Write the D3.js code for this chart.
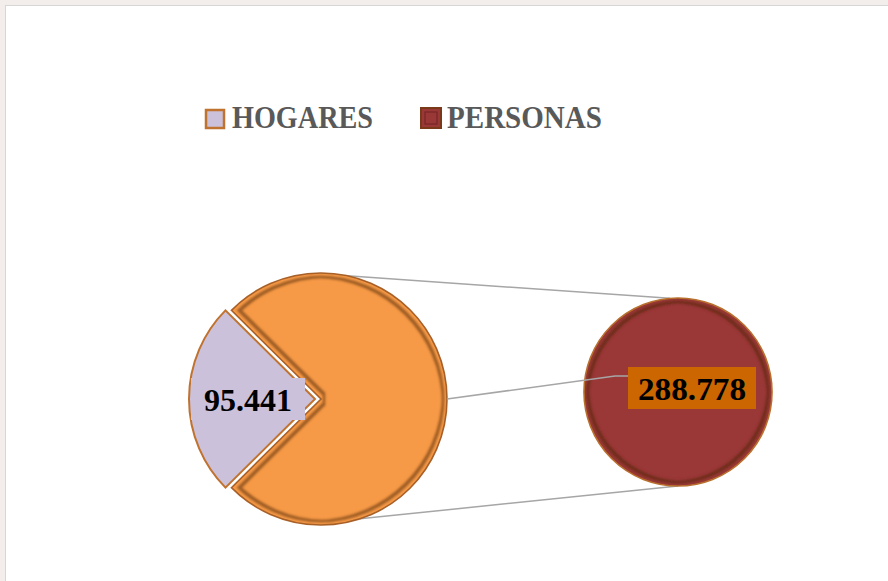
<!DOCTYPE html>
<html><head><meta charset="utf-8">
<script src="https://cdn.jsdelivr.net/npm/d3@7"></script>
<style>html,body{margin:0;padding:0;background:#f3eeec;}svg{display:block;}</style>
</head><body>
<svg id="c" width="888" height="581"></svg>
<script>
// ---- data ----
const mainCategories = ["HOGARES", "OTROS"];
const mainValues = [95441, 288778];
const secondCategories = ["PERSONAS"];
const secondValues = [288778];
const legendLabels = ["HOGARES", "PERSONAS"];
const labelTexts = ["95.441", "288.778"];

const colors = {HOGARES:"#ccc1da", OTROS:"#f79a46", PERSONAS:"#9a3837"};
const strokes = {HOGARES:"#c0722f", OTROS:"#a8612a", PERSONAS:"#b8702e"};

const svg = d3.select("#c");
const defs = svg.append("defs");
const f = defs.append("filter").attr("id","bevel").attr("x","-10%").attr("y","-10%").attr("width","120%").attr("height","120%");
f.append("feMorphology").attr("in","SourceAlpha").attr("operator","erode").attr("radius",2.5).attr("result","e1");
f.append("feMorphology").attr("in","SourceAlpha").attr("operator","erode").attr("radius",5.5).attr("result","e2");
f.append("feComposite").attr("in","e1").attr("in2","e2").attr("operator","out").attr("result","band");
f.append("feGaussianBlur").attr("in","band").attr("stdDeviation",1.3).attr("result","bandb");
f.append("feFlood").attr("flood-color","#5a2a0a").attr("flood-opacity",0.7);
f.append("feComposite").attr("in2","bandb").attr("operator","in").attr("result","sh");
f.append("feComposite").attr("in","sh").attr("in2","SourceAlpha").attr("operator","in").attr("result","sh2");
const m = f.append("feMerge");
m.append("feMergeNode").attr("in","SourceGraphic");
m.append("feMergeNode").attr("in","sh2");

// frame
svg.append("rect").attr("x",5.5).attr("y",5.5).attr("width",900).attr("height",600)
  .attr("fill","#fff").attr("stroke","#d6d6d6").attr("stroke-width",1);

// ---- main pie ----
const cx1 = 321, cy1 = 399, r1 = 126;
const total = d3.sum(mainValues);
const span = 2*Math.PI*mainValues[0]/total;
const pie1 = d3.pie().sort(null).startAngle(1.5*Math.PI - span/2).endAngle(3.5*Math.PI - span/2);
const arcs1 = pie1(mainValues);
const arc1 = d3.arc().innerRadius(0).outerRadius(r1);
const explode = 6;

// connector lines (drawn first)
const pt = (cx,cy,r,a) => [cx + r*Math.sin(a), cy - r*Math.cos(a)];
const cx2 = 678, cy2 = 392, r2 = 94;
const deg = Math.PI/180;
const conn = [
  [pt(cx1,cy1,r1,12*deg), pt(cx2,cy2,r2,-5*deg)],
  [pt(cx1,cy1,r1,162*deg), pt(cx2,cy2,r2,180*deg)]
];
svg.selectAll("line.conn").data(conn).join("line").attr("class","conn")
  .attr("x1",d=>d[0][0]).attr("y1",d=>d[0][1]).attr("x2",d=>d[1][0]).attr("y2",d=>d[1][1])
  .attr("stroke","#a6a6a6").attr("stroke-width",1.5);

const g1 = svg.append("g").attr("transform",`translate(${cx1},${cy1})`);
g1.selectAll("path").data(arcs1).join("path")
  .attr("transform",(d,i)=>{
    if(i!==0) return null;
    const a=(d.startAngle+d.endAngle)/2;
    return `translate(${explode*Math.sin(a)},${-explode*Math.cos(a)})`;
  })
  .attr("d",arc1)
  .attr("fill",(d,i)=>colors[mainCategories[i]])
  .attr("stroke",(d,i)=>strokes[mainCategories[i]])
  .attr("stroke-width",(d,i)=>i===0?2:1.6)
  .attr("stroke-linejoin","miter")
  .attr("filter",(d,i)=>i===0?null:"url(#bevel)");

// ---- second pie ----
const pie2 = d3.pie().sort(null);
const arc2 = d3.arc().innerRadius(0).outerRadius(r2);
const g2 = svg.append("g").attr("transform",`translate(${cx2},${cy2})`);
g2.selectAll("path").data(pie2(secondValues)).join("path")
  .attr("d",arc2)
  .attr("fill",(d,i)=>colors[secondCategories[i]])
  .attr("stroke",(d,i)=>strokes[secondCategories[i]])
  .attr("stroke-width",1.6)
  .attr("filter","url(#bevel)");

// leader line for the second label
const lp = pt(cx1,cy1,r1,90*deg);
svg.append("polyline")
  .attr("points",`${lp[0]},${lp[1]} 615,376 628,376`)
  .attr("fill","none").attr("stroke","#a6a6a6").attr("stroke-width",1.5);

// ---- data labels ----
const fontFam = "'Liberation Serif','DejaVu Serif',serif";
const labArc = d3.arc().innerRadius(67).outerRadius(67);
const a0 = arcs1[0];
const am = (a0.startAngle+a0.endAngle)/2;
const c1 = labArc.centroid(a0);
const l1x = cx1 + c1[0] + explode*Math.sin(am), l1y = cy1 + c1[1] - explode*Math.cos(am);
svg.append("rect").attr("x",l1x-57).attr("y",l1y-21).attr("width",114).attr("height",42).attr("fill",colors.HOGARES);
svg.append("text").attr("x",l1x).attr("y",l1y+12).attr("text-anchor","middle")
  .attr("font-family",fontFam).attr("font-weight","bold").attr("font-size",32).attr("fill","#000")
  .attr("textLength",88).attr("lengthAdjust","spacingAndGlyphs")
  .text(labelTexts[0]);
const l2x = cx2 + 14, l2y = cy2 - 4;
svg.append("rect").attr("x",l2x-64).attr("y",l2y-21).attr("width",128).attr("height",42).attr("fill","#cc6600");
svg.append("text").attr("x",l2x).attr("y",l2y+12).attr("text-anchor","middle")
  .attr("font-family",fontFam).attr("font-weight","bold").attr("font-size",32).attr("fill","#000")
  .attr("textLength",108).attr("lengthAdjust","spacingAndGlyphs")
  .text(labelTexts[1]);

// ---- legend ----
const legX = [206, 421], legW = [141, 155];
const lg = svg.append("g");
legendLabels.forEach((name,i)=>{
  const s = i===0?18:20;
  lg.append("rect").attr("x",legX[i]).attr("y",i===0?110:108).attr("width",s).attr("height",s)
    .attr("fill",colors[name]).attr("stroke",i===0?"#c0722f":"#7a3a1a").attr("stroke-width",i===0?2.5:2);
  if(i===1){
    lg.append("rect").attr("x",legX[i]+4).attr("y",112).attr("width",12).attr("height",12)
      .attr("fill","none").attr("stroke","#6a2020").attr("stroke-width",1.2).attr("opacity",0.7);
  }
  lg.append("text").attr("x",legX[i]+26).attr("y",128)
    .attr("font-family",fontFam).attr("font-weight","bold").attr("font-size",31.5)
    .attr("fill","#595959").attr("textLength",legW[i]).attr("lengthAdjust","spacingAndGlyphs")
    .text(name);
});
</script>
</body></html>
